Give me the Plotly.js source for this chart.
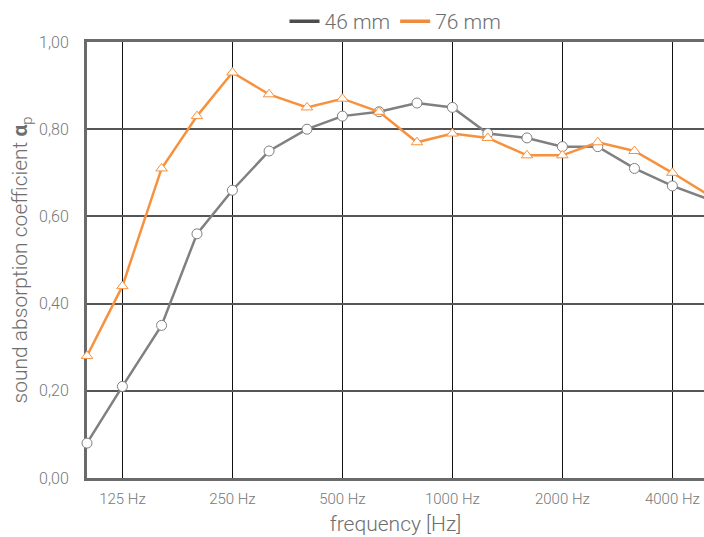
<!DOCTYPE html>
<html>
<head>
<meta charset="utf-8">
<script src="https://cdn.plot.ly/plotly-3.0.1.min.js"></script>
<style>html,body{margin:0;padding:0;background:#fff;}#chart{width:704px;height:537px;}</style>
</head>
<body>
<div id="chart"></div>
<script>
const frequencies = [100, 125, 160, 200, 250, 315, 400, 500, 630, 800, 1000, 1250, 1600, 2000, 2500, 3150, 4000, 5000];
const alpha46 = [0.08, 0.21, 0.35, 0.56, 0.66, 0.75, 0.80, 0.83, 0.84, 0.86, 0.85, 0.79, 0.78, 0.76, 0.76, 0.71, 0.67, 0.64];
const alpha76 = [0.28, 0.44, 0.71, 0.83, 0.93, 0.88, 0.85, 0.87, 0.84, 0.77, 0.79, 0.78, 0.74, 0.74, 0.77, 0.75, 0.70, 0.65];
const seriesNames = ['46 mm', '76 mm'];
const xTickVals = [125, 250, 500, 1000, 2000, 4000];
const xTickText = ['125 Hz', '250 Hz', '500 Hz', '1000 Hz', '2000 Hz', '4000 Hz'];
const yTickVals = [0, 0.2, 0.4, 0.6, 0.8, 1.0];
const yTickText = ['0,00', '0,20', '0,40', '0,60', '0,80', '1,00'];

const FONT = 'Roboto, "Open Sans", sans-serif';
const TXT = '#6e6e6e';

const traces = [
  {
    x: frequencies, y: alpha46, name: seriesNames[0], type: 'scatter', mode: 'lines+markers',
    line: {color: '#808080', width: 2.5}, showlegend: false,
    marker: {symbol: 'circle', size: 10, color: '#ffffff', line: {color: '#808080', width: 1}},
    cliponaxis: false
  },
  {
    x: frequencies, y: alpha76, name: seriesNames[1], type: 'scatter', mode: 'lines+markers',
    line: {color: '#f7913d', width: 2.5}, showlegend: false,
    marker: {symbol: 'triangle-up', size: 10, color: '#ffffff', line: {color: '#f7913d', width: 1}},
    cliponaxis: false
  },
  // legend entries (line only, as in the reference legend)
  {x: [null], y: [null], name: seriesNames[0], type: 'scatter', mode: 'lines', line: {color: '#4d4d4d', width: 3.5}, hoverinfo: 'skip'},
  {x: [null], y: [null], name: seriesNames[1], type: 'scatter', mode: 'lines', line: {color: '#f08a3c', width: 3.5}, hoverinfo: 'skip'}
];

const layout = {
  width: 704, height: 537,
  margin: {l: 87, r: 0, t: 42, b: 59, pad: 0},
  paper_bgcolor: '#ffffff', plot_bgcolor: '#ffffff',
  font: {family: FONT, color: TXT, size: 15, weight: 300},
  showlegend: true,
  legend: {
    orientation: 'h', x: 0.5, xanchor: 'center', y: 1.0, yanchor: 'bottom',
    font: {family: FONT, size: 21, color: TXT, weight: 300},
    itemwidth: 30, tracegroupgap: 0, bgcolor: 'rgba(0,0,0,0)'
  },
  xaxis: {
    type: 'log',
    range: [2, 3.6886],
    tickvals: xTickVals, ticktext: xTickText,
    showgrid: true, gridcolor: '#111111', gridwidth: 1.5,
    showline: true, linecolor: '#6a6a6a', linewidth: 3, mirror: true,
    ticks: '', zeroline: false,
    tickfont: {family: FONT, size: 15, color: '#777777', weight: 300},
    ticklabelstandoff: 5,
    layer: 'below traces',
    title: {text: 'frequency [Hz]', font: {family: FONT, size: 21, color: TXT, weight: 300}, standoff: 10}
  },
  yaxis: {
    range: [0, 1.0],
    tickvals: yTickVals, ticktext: yTickText,
    showgrid: true, gridcolor: '#555555', gridwidth: 2,
    showline: true, linecolor: '#6a6a6a', linewidth: 3,
    ticks: '', zeroline: false,
    tickfont: {family: FONT, size: 16, color: '#777777', weight: 300},
    ticklabelstandoff: 12,
    layer: 'below traces',
    title: {text: 'sound absorption coefficient <b>α</b><sub>p</sub>', font: {family: FONT, size: 21, color: TXT, weight: 300}, standoff: 6}
  }
};

Plotly.newPlot('chart', traces, layout, {displayModeBar: false, staticPlot: true});
</script>
</body>
</html>
